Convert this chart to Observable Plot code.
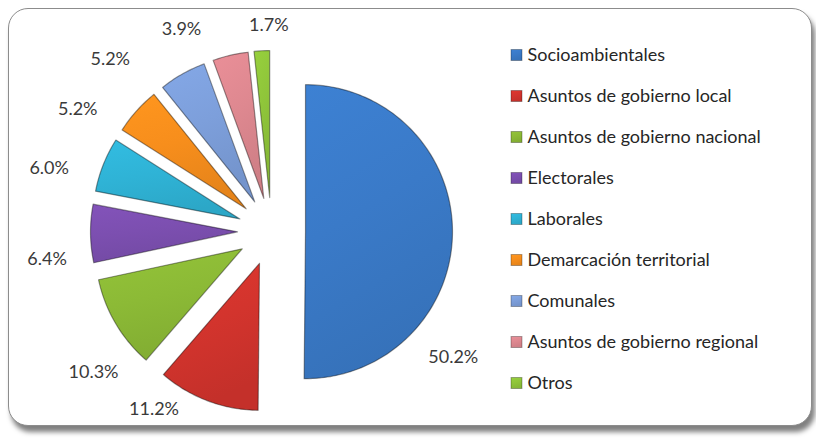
<!DOCTYPE html>
<html>
<head>
<meta charset="utf-8">
<script src="https://cdn.jsdelivr.net/npm/d3@7"></script>
<script src="https://cdn.jsdelivr.net/npm/@observablehq/plot@0.6"></script>
<style>
  html, body { margin: 0; padding: 0; background: #ffffff; }
  #wrap { position: relative; width: 816px; height: 439px; overflow: hidden; }
  #frame {
    position: absolute; left: 8px; top: 8px; width: 802px; height: 416px;
    border: 1px solid #8c8c8c; border-radius: 20px; background: #ffffff;
    box-shadow: 3px 6px 5px rgba(0,0,0,0.5);
  }
  #chart { position: absolute; left: 0; top: 0; }
</style>
</head>
<body>
<div id="wrap"><div id="frame"></div><div id="chart"></div></div>
<script>
// ---- data ----
const categories = [
  "Socioambientales",
  "Asuntos de gobierno local",
  "Asuntos de gobierno nacional",
  "Electorales",
  "Laborales",
  "Demarcación territorial",
  "Comunales",
  "Asuntos de gobierno regional",
  "Otros"
];
const shares = [50.2, 11.2, 10.3, 6.4, 6.0, 5.2, 5.2, 3.9, 1.7];
const valueLabels = ["50.2%", "11.2%", "10.3%", "6.4%", "6.0%", "5.2%", "5.2%", "3.9%", "1.7%"];
const baseColors = ["#3a7ac8", "#d3342d", "#8cba36", "#7c4fb0", "#2fb3d6", "#f78e1c", "#7d9fdb", "#de8890", "#8fc53a"];

// ---- layout (pixels / degrees) ----
const cx = 271, cy = 231, radius = 147, explode = 34;
const labelShiftDeg = [34.4, 12.8, -7.7, -6.3, -5.9, -9.6, -13.6, -10.9, 2.3];
const labelRadius = [221, 213, 227, 226, 231, 229, 236, 221, 206];
const legendX = 511, legendTop = 55, legendStep = 41, sw = 11;

const fontFamily = "Lato, 'Open Sans', sans-serif";

// pie angles (clockwise from 12 o'clock)
const arcs = d3.pie().sort(null).value(d => d)(shares);

const slicePts = [];
arcs.forEach((a, i) => {
  const mid = (a.startAngle + a.endAngle) / 2;
  const ox = cx + explode * Math.sin(mid), oy = cy - explode * Math.cos(mid);
  slicePts.push({cat: categories[i], x: ox, y: oy});
  const n = Math.max(4, Math.ceil((a.endAngle - a.startAngle) / 0.02));
  for (let k = 0; k <= n; ++k) {
    const t = a.startAngle + (a.endAngle - a.startAngle) * k / n;
    slicePts.push({cat: categories[i], x: ox + radius * Math.sin(t), y: oy - radius * Math.cos(t)});
  }
});

const labelRows = arcs.map((a, i) => {
  const ang = (a.startAngle + a.endAngle) / 2 + labelShiftDeg[i] * Math.PI / 180;
  return {text: valueLabels[i], x: cx + labelRadius[i] * Math.sin(ang), y: cy - labelRadius[i] * Math.cos(ang)};
});

const legendRows = categories.map((c, i) => ({cat: c, i}));

const gradIds = categories.map((c, i) => "sliceGrad" + i);

function defsMark() {
  const g = d3.create("svg:g");
  const defs = g.append("defs");
  baseColors.forEach((col, i) => {
    const base = d3.color(col);
    const lg = defs.append("linearGradient").attr("id", gradIds[i])
      .attr("x1", 0).attr("y1", 0).attr("x2", 0.3).attr("y2", 1);
    lg.append("stop").attr("offset", "0%").attr("stop-color", base.brighter(0.15).formatHex());
    lg.append("stop").attr("offset", "50%").attr("stop-color", base.formatHex());
    lg.append("stop").attr("offset", "100%").attr("stop-color", base.darker(0.2).formatHex());
  });
  return g.node();
}

const chart = Plot.plot({
  width: 816,
  height: 439,
  margin: 0,
  x: {domain: [0, 816], range: [0, 816], axis: null},
  y: {domain: [0, 439], range: [0, 439], axis: null},
  color: {domain: categories, range: gradIds.map(id => `url(#${id})`)},
  style: {background: "transparent", fontFamily},
  marks: [
    defsMark,
    Plot.line(slicePts, {x: "x", y: "y", z: "cat", fill: "cat", stroke: "#000", strokeOpacity: 0.4, strokeWidth: 1.2, curve: "linear-closed"}),
    Plot.text(labelRows, {x: "x", y: "y", text: "text", fontSize: 18, fill: "#3a3a3a"}),
    Plot.rect(legendRows, {
      x1: () => legendX, x2: () => legendX + sw,
      y1: d => legendTop + d.i * legendStep - sw / 2, y2: d => legendTop + d.i * legendStep + sw / 2,
      fill: "cat", stroke: "#000", strokeOpacity: 0.3
    }),
    Plot.text(legendRows, {x: () => legendX + sw + 5, y: d => legendTop + d.i * legendStep, text: "cat", textAnchor: "start", fontSize: 18, fill: "#262626"})
  ]
});
document.getElementById("chart").appendChild(chart);
</script>
</body>
</html>
